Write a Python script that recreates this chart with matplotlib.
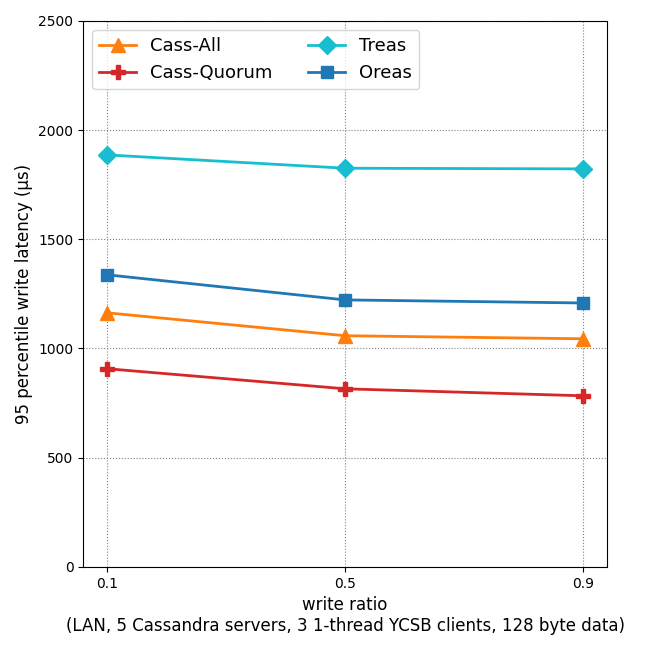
import matplotlib
matplotlib.use("Agg")
import matplotlib.pyplot as plt

x = [0.1, 0.5, 0.9]
cass_all = [1163, 1058, 1044]
cass_quorum = [907, 815, 783]
treas = [1886, 1825, 1822]
oreas = [1337, 1222, 1208]

fig = plt.figure(figsize=(6.5, 6.5), dpi=100)
ax = fig.add_axes([0.128, 0.128, 0.806, 0.84])
ax.plot(x, cass_all, marker='^', color='#ff7f0e', lw=2, ms=10, label='Cass-All')
ax.plot(x, cass_quorum, marker='P', color='#d62728', lw=2, ms=10, label='Cass-Quorum')
ax.plot(x, treas, marker='D', color='#17becf', lw=2, ms=9, label='Treas')
ax.plot(x, oreas, marker='s', color='#1f77b4', lw=2, ms=9, label='Oreas')
ax.set_ylim(0, 2500)
ax.set_xticks(x)
ax.set_xticklabels(['0.1', '0.5', '0.9'])
ax.grid(True, linestyle=':', color='gray')
ax.set_ylabel('95 percentile write latency (µs)', fontsize=12)
ax.set_xlabel('write ratio\n(LAN, 5 Cassandra servers, 3 1-thread YCSB clients, 128 byte data)', fontsize=12)
ax.legend(loc='upper left', ncol=2, fontsize=13)
fig.savefig('out.png', dpi=100)
